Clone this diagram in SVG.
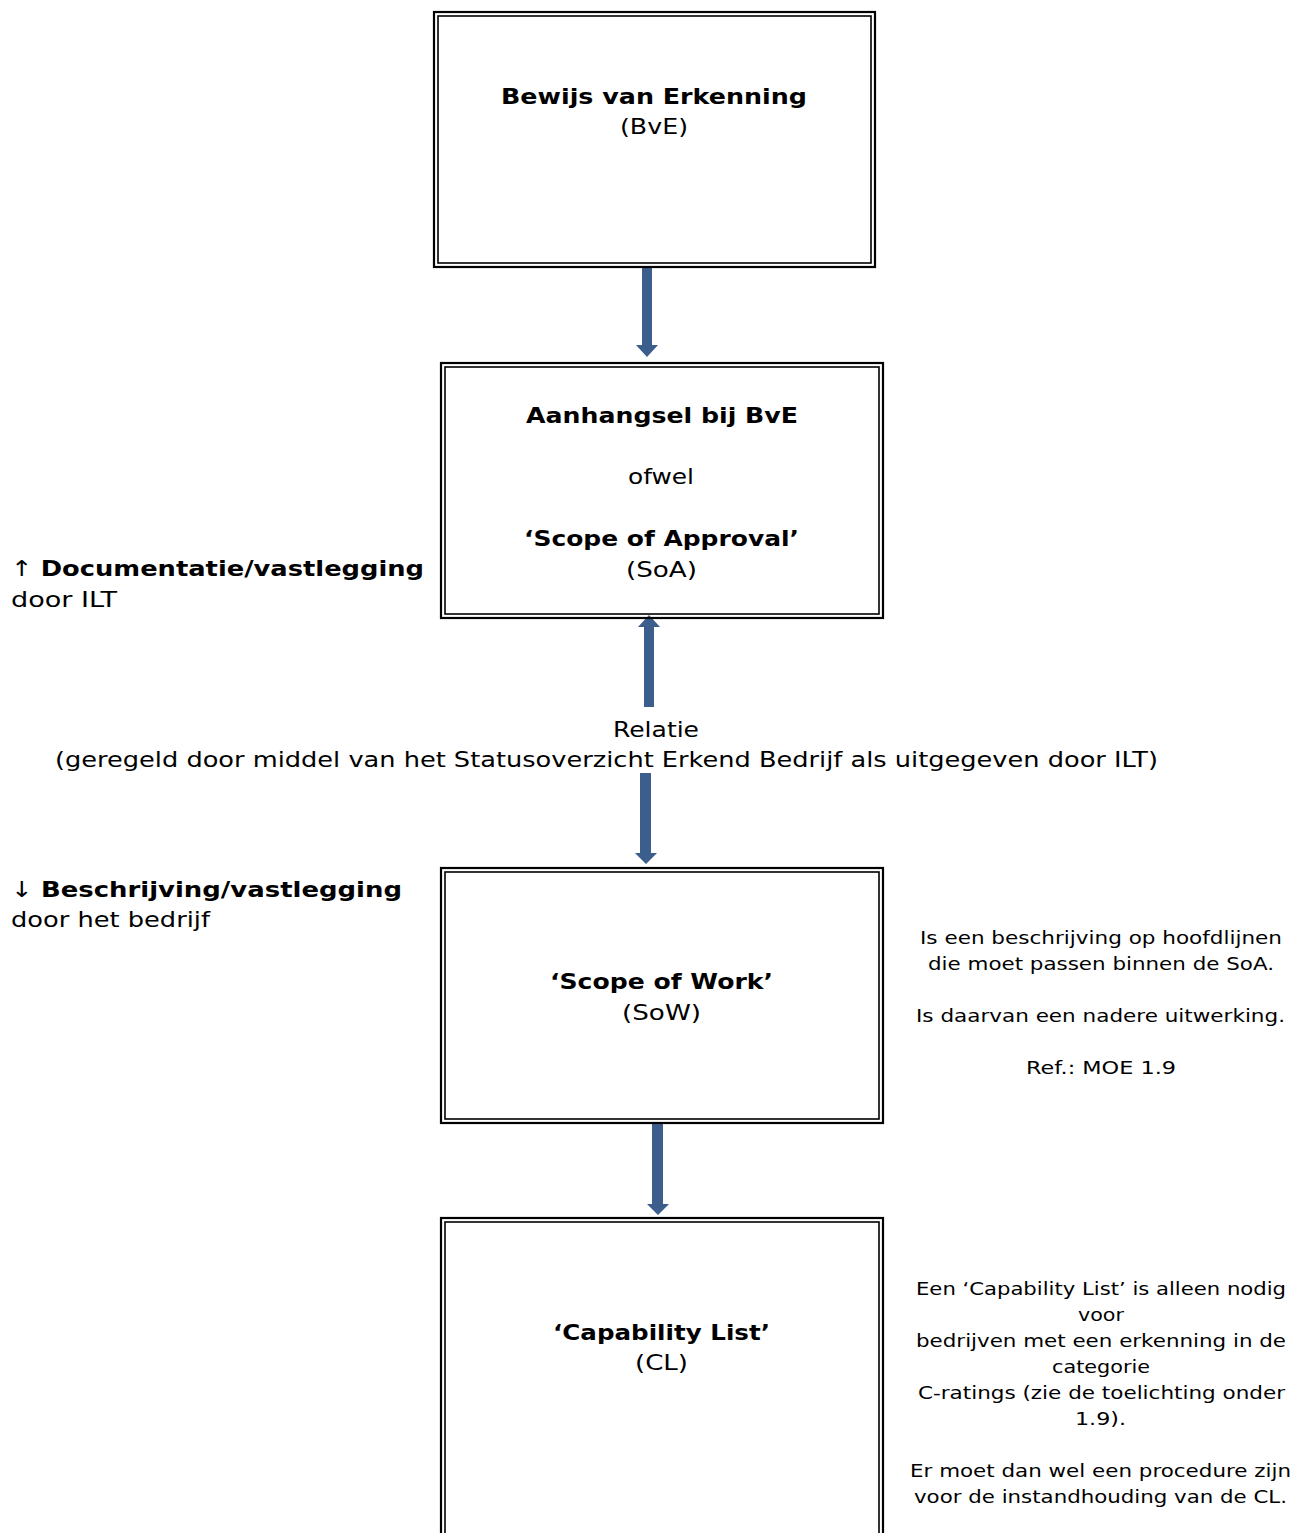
<svg xmlns="http://www.w3.org/2000/svg" width="1311" height="1533" viewBox="0 0 1311 1533">
<defs>
<style>
.t{font-family:"DejaVu Sans",Verdana,sans-serif;font-size:22px;fill:#000;}
.b{font-weight:bold;}
.s{font-family:"DejaVu Sans",Verdana,sans-serif;font-size:18px;fill:#000;text-anchor:middle;}
.m{text-anchor:middle;}
.o{fill:none;stroke:#000;stroke-width:2.2;}
.i{fill:none;stroke:#000;stroke-width:1.6;}
.arr{fill:#3B5E8C;}
</style>
</defs>
<rect width="1311" height="1533" fill="#fff"/>
<g id="connectors">
<polygon class="arr" points="642,266 652,266 652,345 658,345 647,357 636,345 642,345"/>
<polygon class="arr" points="644,707 654,707 654,627 660,627 649,615 638,627 644,627"/>
<polygon class="arr" points="640,773 651,773 651,853 657,853 646,864 635,853 640,853"/>
<polygon class="arr" points="652,1124 663,1124 663,1204 669,1204 658,1215 647,1204 652,1204"/>
</g>
<g id="node-bve">
<rect class="o" x="434" y="12" width="441" height="255"/>
<rect class="i" x="438" y="16" width="433" height="247"/>
<text class="t b m" x="654" y="104" textLength="306" lengthAdjust="spacingAndGlyphs">Bewijs van Erkenning</text>
<text class="t m" x="654" y="134" textLength="68" lengthAdjust="spacingAndGlyphs">(BvE)</text>
</g>
<g id="node-soa">
<rect class="o" x="441" y="363" width="442" height="255"/>
<rect class="i" x="445" y="367" width="434" height="247"/>
<text class="t b m" x="662" y="423" textLength="272" lengthAdjust="spacingAndGlyphs">Aanhangsel bij BvE</text>
<text class="t m" x="661" y="484" textLength="66" lengthAdjust="spacingAndGlyphs">ofwel</text>
<text class="t b m" x="661.5" y="546" textLength="275" lengthAdjust="spacingAndGlyphs">‘Scope of Approval’</text>
<text class="t m" x="661.5" y="577" textLength="71" lengthAdjust="spacingAndGlyphs">(SoA)</text>
</g>
<g id="label-doc">
<text class="t" x="11" y="576" textLength="413" lengthAdjust="spacingAndGlyphs">↑ <tspan class="b">Documentatie/vastlegging</tspan></text>
<text class="t" x="11" y="607" textLength="106" lengthAdjust="spacingAndGlyphs">door ILT</text>
</g>
<g id="label-relatie">
<text class="t m" x="656" y="737" textLength="86" lengthAdjust="spacingAndGlyphs">Relatie</text>
<text class="t m" x="606.5" y="767" textLength="1103" lengthAdjust="spacingAndGlyphs">(geregeld door middel van het Statusoverzicht Erkend Bedrijf als uitgegeven door ILT)</text>
</g>
<g id="label-beschr">
<text class="t" x="11" y="897" textLength="391" lengthAdjust="spacingAndGlyphs">↓ <tspan class="b">Beschrijving/vastlegging</tspan></text>
<text class="t" x="11" y="927" textLength="199" lengthAdjust="spacingAndGlyphs">door het bedrijf</text>
</g>
<g id="node-sow">
<rect class="o" x="441" y="868" width="442" height="255"/>
<rect class="i" x="445" y="872" width="434" height="247"/>
<text class="t b m" x="661.5" y="989" textLength="223" lengthAdjust="spacingAndGlyphs">‘Scope of Work’</text>
<text class="t m" x="661.5" y="1020" textLength="79" lengthAdjust="spacingAndGlyphs">(SoW)</text>
</g>
<g id="note-sow">
<text class="s" x="1101" y="944" textLength="362" lengthAdjust="spacingAndGlyphs">Is een beschrijving op hoofdlijnen</text>
<text class="s" x="1101" y="970" textLength="346" lengthAdjust="spacingAndGlyphs">die moet passen binnen de SoA.</text>
<text class="s" x="1100.5" y="1022" textLength="369" lengthAdjust="spacingAndGlyphs">Is daarvan een nadere uitwerking.</text>
<text class="s" x="1101" y="1074" textLength="150" lengthAdjust="spacingAndGlyphs">Ref.: MOE 1.9</text>
</g>
<g id="node-cl">
<rect class="o" x="441" y="1218" width="442" height="340"/>
<rect class="i" x="445" y="1222" width="434" height="332"/>
<text class="t b m" x="661.5" y="1340" textLength="217" lengthAdjust="spacingAndGlyphs">‘Capability List’</text>
<text class="t m" x="661.5" y="1370" textLength="53" lengthAdjust="spacingAndGlyphs">(CL)</text>
</g>
<g id="note-cl">
<text class="s" x="1101" y="1295" textLength="370" lengthAdjust="spacingAndGlyphs">Een ‘Capability List’ is alleen nodig</text>
<text class="s" x="1101" y="1321" textLength="46" lengthAdjust="spacingAndGlyphs">voor</text>
<text class="s" x="1101" y="1347" textLength="370" lengthAdjust="spacingAndGlyphs">bedrijven met een erkenning in de</text>
<text class="s" x="1101" y="1373" textLength="98" lengthAdjust="spacingAndGlyphs">categorie</text>
<text class="s" x="1101.5" y="1399" textLength="367" lengthAdjust="spacingAndGlyphs">C-ratings (zie de toelichting onder</text>
<text class="s" x="1100.5" y="1425" textLength="51" lengthAdjust="spacingAndGlyphs">1.9).</text>
<text class="s" x="1100.5" y="1477" textLength="381" lengthAdjust="spacingAndGlyphs">Er moet dan wel een procedure zijn</text>
<text class="s" x="1100.5" y="1503" textLength="373" lengthAdjust="spacingAndGlyphs">voor de instandhouding van de CL.</text>
</g>
</svg>
